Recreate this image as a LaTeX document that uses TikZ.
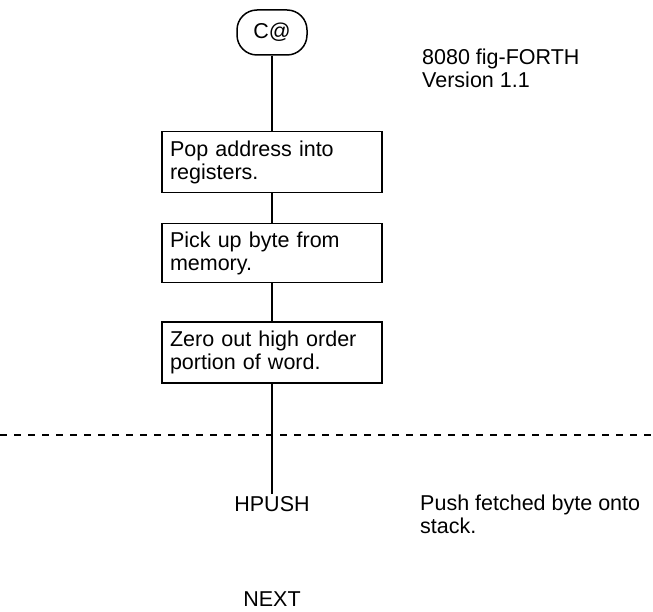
\documentclass[tikz,border=0pt]{standalone}
\usepackage{fontspec}
\setmainfont{Liberation Sans}
\begin{document}
\begin{tikzpicture}[x=1pt,y=-1pt,
  font=\fontsize{21.5}{23}\selectfont,
  proc/.style={draw, line width=1.5pt, text width=204pt, minimum height=61pt,
    align=left, inner xsep=8pt, inner ysep=0pt, anchor=north},
  term/.style={draw, line width=1.5pt, rounded corners=20pt, minimum width=70pt,
    minimum height=45pt, inner sep=0pt},
  conn/.style={line width=1.5pt},
  sepline/.style={line width=1.3pt, dash pattern=on 7pt off 7pt},
  lbl/.style={align=left, inner sep=0pt}]
\useasboundingbox (0,0) rectangle (653,612);
\node[term] (t) at (272,32.5) {C@};
\node[proc] (b1) at (272,131) {Pop address into\\registers.};
\node[proc, minimum height=59pt] (b2) at (272,223) {Pick up byte from\\memory.};
\node[proc] (b3) at (272,321) {Zero out high order\\portion of word.};
\coordinate (e) at (272,494);
\draw[conn] (t) -- (b1);
\draw[conn] (b1) -- (b2);
\draw[conn] (b2) -- (b3);
\draw[conn] (b3) -- (e);
\coordinate (dl) at (0,435);
\coordinate (dr) at (653,435);
\draw[sepline] (dl) -- (dr);
\node[lbl, anchor=base west] (ver) at (422,88) {8080 fig-FORTH\\Version 1.1};
\node[lbl, anchor=base] (hp) at (272,511) {HPUSH};
\node[lbl, anchor=base west] (cm) at (420,533) {Push fetched byte onto\\stack.};
\node[lbl, anchor=base] (nx) at (272,606) {NEXT};
\end{tikzpicture}
\end{document}
